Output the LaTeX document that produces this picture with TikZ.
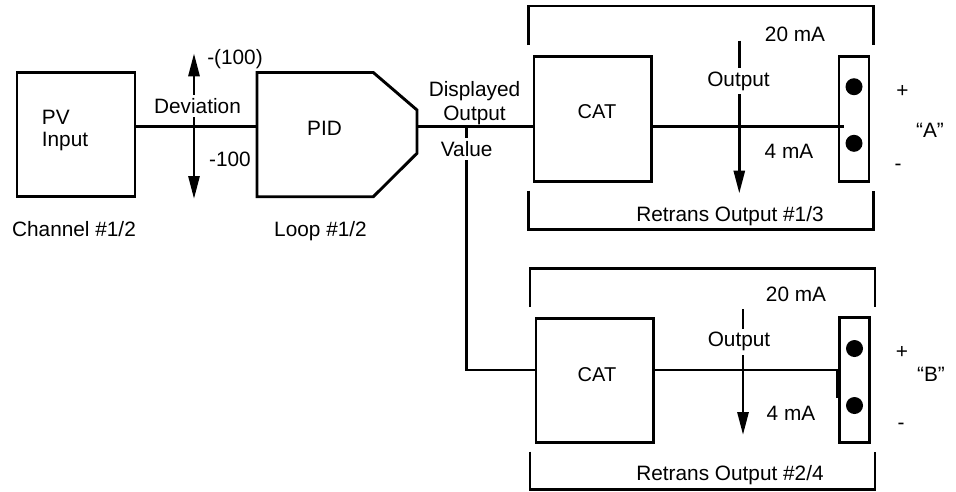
\documentclass[tikz,border=0pt]{standalone}
\usepackage{fontspec}
\setmainfont{Liberation Sans}
\usetikzlibrary{arrows.meta}
\begin{document}
\begin{tikzpicture}[x=1pt,y=-1pt,
  >={Triangle[length=23pt,width=11pt]},
  wire/.style={line width=2.9pt},
  box/.style={draw, line width=2.9pt, inner sep=0pt},
  lbl/.style={font=\fontsize{20.8}{23}\selectfont, inner sep=0pt, anchor=base},
  catlbl/.style={lbl, font=\fontsize{20}{22}\selectfont},
  mask/.style={lbl, fill=white, inner xsep=2pt, inner ysep=3.5pt},
  dot/.style={circle, fill=black, minimum size=17pt, inner sep=0pt}
]
\useasboundingbox (0,0) rectangle (956,491);

% ---------- left part ----------
\node[box, minimum width=118pt, minimum height=124.4pt] (pv) at (76,134.5) {};
\draw[wire] (257,72.5) coordinate (pidtl) -- (373.3,72.5) -- (417,110) -- (417,153.3)
  -- (373.3,196.7) -- (257,196.7) -- cycle;
\coordinate (pidin) at (257,126.7);
\coordinate (pidout) at (417,126.7);
\draw[wire] (pv.east |- pidin) -- (pidin);

\coordinate (devtop) at (194,53.3);
\coordinate (devbot) at (194,199);
\draw[wire, <->] (devtop) -- (devbot);

% ---------- retrans units ----------
\node[box, minimum width=117.7pt, minimum height=125pt] (cat1) at (592.85,119.2) {};
\node[box, minimum width=117.3pt, minimum height=124.4pt] (cat2) at (594.6,380.5) {};
\node[box, minimum width=30pt, minimum height=125pt] (ta) at (854,119.2) {};
\node[box, minimum width=30pt, minimum height=125pt] (tb) at (854.3,380.2) {};
\node[dot] (ta1) at (854,86.7) {};
\node[dot] (ta2) at (854,143.3) {};
\node[dot] (tb1) at (854.5,348.5) {};
\node[dot] (tb2) at (854.5,405.5) {};

% brackets
\draw[wire] (528.3,45) -- (528.3,6) -- (873.3,6) -- (873.3,45);
\draw[wire] (528.3,190.7) -- (528.3,229.3) -- (873.3,229.3) -- (873.3,190.7);
\draw[wire] (530,307) -- (530,268.3) -- (875,268.3) -- (875,307);
\draw[wire] (530,451.7) -- (530,489.3) -- (875,489.3) -- (875,451.7);

% connectors
\draw[wire] (pidout) -- (cat1.west |- pidout);
\coordinate (split) at (466.7,126.7);
\draw[wire] (split) |- (cat2.west |- 0,370);
\coordinate (aend) at (844,126.7);
\draw[wire] (cat1.east |- pidout) -- (aend);
\coordinate (bend) at (837.2,370);
\coordinate (bend2) at (837.2,398);
\draw[wire] (cat2.east |- bend) -- (bend) -- (bend2);

% output arrows
\coordinate (o1top) at (739.3,40.7);
\coordinate (o1bot) at (739.3,193.5);
\draw[wire, ->] (o1top) -- (o1bot);
\coordinate (o2top) at (743,309.3);
\coordinate (o2bot) at (743,435);
\draw[wire, ->] (o2top) -- (o2bot);

% ---------- labels ----------
\node[lbl] (lm100p) at (235,64) {-(100)};
\node[mask] (ldev) at (197.5,113.3) {Deviation};
\node[lbl] (lm100) at (230,166.7) {-100};
\node[lbl, anchor=base west] (lpv1) at (41.7,124) {PV};
\node[lbl, anchor=base west] (lpv2) at (41.7,146.7) {Input};
\node[lbl] (lpid) at (324.5,135) {PID};
\node[lbl] (lch) at (74,236.7) {Channel \#1/2};
\node[lbl] (lloop) at (320.5,236.7) {Loop \#1/2};
\node[lbl] (ldisp1) at (474.5,96.5) {Displayed};
\node[lbl] (ldisp2) at (474.5,120) {Output};
\node[mask] (lval) at (466.7,156.7) {Value};

\node[catlbl] (lcat1) at (597,118.3) {CAT};
\node[lbl] (l20a) at (795,41.7) {20 mA};
\node[mask] (lout1) at (738.5,86) {Output};
\node[lbl] (l4a) at (789,158.3) {4 mA};
\node[lbl] (lpa) at (902.5,97) {+};
\node[lbl] (lma) at (898,170) {-};
\node[lbl] (lA) at (930,137) {“A”};
\node[lbl] (lr1) at (730,221.7) {Retrans Output \#1/3};

\node[catlbl] (lcat2) at (597,381) {CAT};
\node[lbl] (l20b) at (796,301.7) {20 mA};
\node[mask] (lout2) at (739,346.7) {Output};
\node[lbl] (l4b) at (791,420) {4 mA};
\node[lbl] (lpb) at (902,358) {+};
\node[lbl] (lmb) at (901,429) {-};
\node[lbl] (lB) at (931,381.7) {“B”};
\node[lbl] (lr2) at (730,480) {Retrans Output \#2/4};
\end{tikzpicture}
\end{document}
